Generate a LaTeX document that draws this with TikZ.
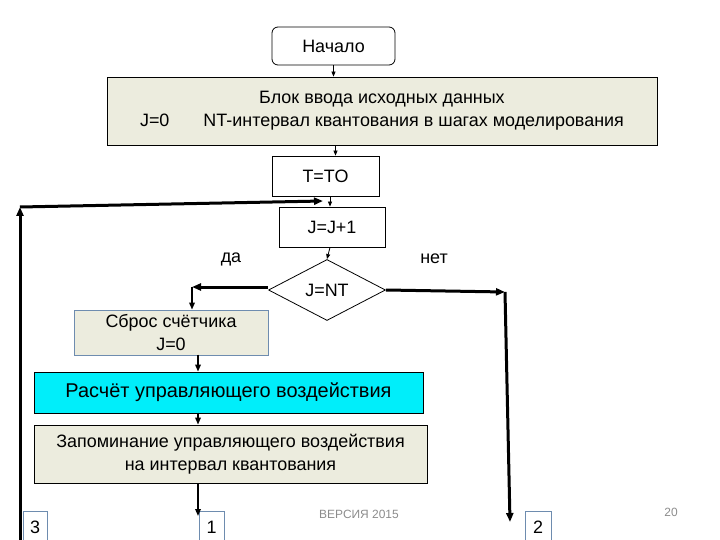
\documentclass[tikz,border=0pt]{standalone}
\usepackage{fontspec}
\setmainfont{Liberation Sans}
\usetikzlibrary{positioning,arrows.meta,shapes.geometric}

\definecolor{blockbeige}{RGB}{236,236,222}
\definecolor{calccyan}{RGB}{0,238,250}
\definecolor{connblue}{RGB}{110,140,175}
\definecolor{notegray}{RGB}{140,140,140}

\begin{document}
\begin{tikzpicture}[
  x=1bp, y=-1bp,
  box/.style={draw, align=center, inner sep=2pt, font=\fontsize{18}{23}\selectfont, line width=0.8bp},
  conn/.style={draw=connblue, fill=white, font=\fontsize{18}{20}\selectfont, line width=0.8bp, minimum height=32bp, inner sep=0pt},
  thin arr/.style={line width=0.8bp, -{Triangle[length=5bp,width=4bp]}},
  mid arr/.style={line width=1.6bp, -{Triangle[length=7bp,width=5.5bp]}},
  thick arr/.style={line width=3bp, -{Triangle[length=9bp,width=7bp]}}
]
  \useasboundingbox (0,0) rectangle (720,540);

  % blocks
  \node[box, rounded corners=6bp, minimum width=123bp, minimum height=38bp] (start) at (333.5,46) {Начало};
  \node[box, fill=blockbeige, minimum width=550bp, minimum height=68bp] (input) at (382,111)
    {Блок ввода исходных данных\\J=0\hspace{34bp}NT-интервал квантования в шагах моделирования};
  \node[box, minimum width=107bp, minimum height=40bp] (t0) at (325.5,176) {T=TO};
  \node[box, minimum width=106bp, minimum height=40bp] (j1) at (332,227) {J=J+1};
  \node[box, shape=diamond, aspect=1.92, minimum width=117bp, minimum height=61bp, inner sep=0pt] (dec) at (327,290) {J=NT};
  \node[box, fill=blockbeige, draw=connblue, minimum width=194bp, minimum height=45bp] (reset) at (171,332.5) {Сброс счётчика\\J=0};
  \node[box, fill=calccyan, font=\fontsize{20}{24}\selectfont, minimum width=389bp, minimum height=41bp] (calc) at (228.5,392.5) {Расчёт управляющего воздействия};
  \node[box, fill=blockbeige, minimum width=393bp, minimum height=58bp] (mem) at (230.5,454)
    {Запоминание управляющего воздействия\\на интервал квантования};

  % connectors to other pages
  \node[conn, minimum width=24bp] (c3) at (35,527) {3};
  \node[conn, minimum width=25bp] (c1) at (211.5,527) {1};
  \node[conn, minimum width=26bp] (c2) at (538,527) {2};

  % labels
  \node[font=\fontsize{18}{20}\selectfont] (yes) at (231,259) {да};
  \node[font=\fontsize{18}{20}\selectfont] (no) at (434,259) {нет};
  \node[font=\fontsize{12}{14}\selectfont, text=notegray] (ver) at (359,514) {ВЕРСИЯ 2015};
  \node[font=\fontsize{12}{14}\selectfont, text=notegray] (page) at (671,512) {20};

  % coordinates
  \coordinate (loopbot) at (20,545);
  \coordinate (loopcorner) at (20,207);
  \coordinate (loopend) at (323,201);
  \coordinate (yesturn) at (192,287);
  \coordinate (noturn) at (505,292);
  \coordinate (noend) at (510,522);
  \coordinate (memend) at (198,516);

  % flow
  \draw[thin arr] (start.south) -- (start.south |- input.north);
  \draw[thin arr] ([xshift=10bp]t0.north |- input.south) -- ([xshift=10bp]t0.north);
  \draw[thin arr] ([xshift=-2bp]j1.north |- t0.south) -- ([xshift=-2bp]j1.north);
  \draw[thin arr] ([xshift=-2bp]j1.south) -- (dec.north);

  % loop back
  \draw[thick arr] (loopbot) -- (loopcorner);
  \draw[thick arr] (loopcorner) -- (loopend);

  % branches
  \draw[thick arr] (dec.west |- yesturn) -- (yesturn);
  \draw[mid arr] (yesturn) -- (yesturn |- reset.north);
  \draw[thick arr] (dec.east) -- (noturn);
  \draw[thick arr] (noturn) -- (noend);

  % lower chain
  \draw[mid arr] (calc.north -| 198,0) ++(0,-17) -- (calc.north -| 198,0);
  \draw[mid arr] (mem.north -| 198,0) ++(0,-12) -- (mem.north -| 198,0);
  \draw[mid arr] (mem.south -| 198,0) -- (memend);
\end{tikzpicture}
\end{document}
